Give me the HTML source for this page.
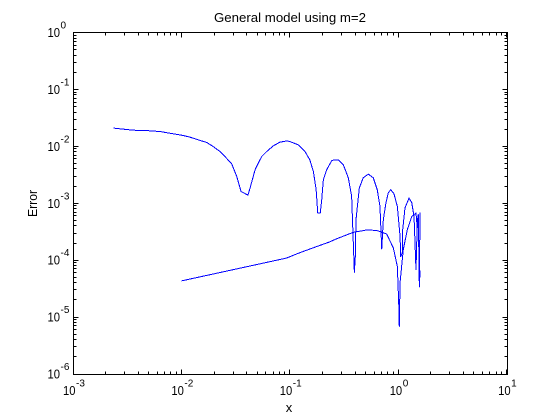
<!DOCTYPE html>
<html>
<head>
<meta charset="utf-8">
<title>General model using m=2</title>
<style>
html,body{margin:0;padding:0;background:#fff}
svg{display:block;font-family:"Liberation Sans",Arial,sans-serif}
text{fill:#000}
</style>
</head>
<body>
<svg id="chart" width="560" height="420" viewBox="0 0 560 420" xmlns="http://www.w3.org/2000/svg">
<rect x="0" y="0" width="560" height="420" fill="#fff"/>
<text x="214" y="22" font-size="13" textLength="152" lengthAdjust="spacingAndGlyphs">General model using m=2</text>
<text x="289" y="412" font-size="13" text-anchor="middle">x</text>
<text transform="translate(37,217) rotate(-90)" font-size="13" textLength="27" lengthAdjust="spacingAndGlyphs">Error</text>
<g id="ticks"></g>
<g id="labels"></g>
<g id="series"></g>
<rect x="73.5" y="32.5" width="434" height="342" fill="none" stroke="#000" stroke-width="1" shape-rendering="crispEdges"/>
</svg>
<script>
var xExponents = [-3, -2, -1, 0, 1];
var yExponents = [0, -1, -2, -3, -4, -5, -6];
var minorFactors = [2, 3, 4, 5, 6, 7, 8, 9];

var outerX = [0.00236,0.0036,0.00479,0.00635,0.00841,0.0104,0.012,0.0143,0.0171,0.0197,0.0227,0.0252,0.0291,0.0324,0.0355,0.0411,0.043,0.0478,0.0512,0.0551,0.0612,0.0705,0.0813,0.0871,0.0935,0.1005,0.12,0.138,0.153,0.165,0.175,0.181,0.191,0.197,0.204,0.219,0.244,0.261,0.28,0.312,0.347,0.372,0.394,0.402,0.408,0.438,0.476,0.53,0.589,0.641,0.679,0.705,0.729,0.771,0.811,0.853,0.914,0.982,1.04,1.055,1.09,1.1,1.156,1.259,1.334,1.4,1.459,1.5,1.532,1.567,1.589];
var outerY = [0.0209,0.0192,0.0189,0.0182,0.0166,0.0155,0.0145,0.013,0.0117,0.0099,0.0081,0.00662,0.00493,0.00295,0.00161,0.00139,0.00185,0.00387,0.00507,0.00662,0.0081,0.0102,0.0119,0.0121,0.0125,0.0121,0.0106,0.0081,0.0058,0.00361,0.00173,0.000673,0.000673,0.00115,0.00258,0.00387,0.00564,0.0058,0.0058,0.00473,0.00277,0.00132,0.0000611,0.000115,0.000514,0.00187,0.0028,0.00325,0.0028,0.00173,0.000879,0.000157,0.000514,0.00102,0.00153,0.00173,0.00147,0.000879,0.000262,0.000115,0.000135,0.000343,0.000834,0.00123,0.00102,0.000586,0.0000681,0.000455,0.000628,0.0000339,0.000681];

var innerX = [0.01,0.0935,0.116,0.153,0.19,0.231,0.271,0.385,0.512,0.634,0.783,0.902,0.982,1.016,1.023,1.04,1.114,1.213,1.334,1.459,1.5,1.52,1.589];
var innerY = [0.0000432,0.000109,0.000129,0.000157,0.000182,0.000208,0.000238,0.000308,0.000339,0.000333,0.000288,0.000164,0.0000778,0.0000135,0.0000069,0.0000403,0.000153,0.000343,0.000586,0.000673,0.000372,0.000628,0.0000493];

var NS = 'http://www.w3.org/2000/svg';
var plotLeft = 73, plotRight = 506.6, plotTop = 32.5, plotBottom = 374;

function xScale(v) {
  return plotLeft + (Math.log10(v) + 3) / 4 * (plotRight - plotLeft);
}
function yScale(v) {
  return plotTop - Math.log10(v) / 6 * (plotBottom - plotTop);
}

var ticksGroup = document.getElementById('ticks');
var labelsGroup = document.getElementById('labels');
var seriesGroup = document.getElementById('series');

function tickLine(x1, y1, x2, y2) {
  var el = document.createElementNS(NS, 'line');
  
  
  el.setAttribute('x1', Math.floor(x1) + 0.5);
  el.setAttribute('y1', Math.floor(y1) + 0.5);
  el.setAttribute('x2', Math.floor(x2) + 0.5);
  el.setAttribute('y2', Math.floor(y2) + 0.5);
  el.setAttribute('stroke', '#000');
  el.setAttribute('shape-rendering', 'crispEdges');
  ticksGroup.appendChild(el);
}

function xTicksAt(v, len) {
  var px = Math.min(xScale(v), 507);
  tickLine(px, 374, px, 374 - len);
  tickLine(px, 32, px, 32 + len);
}
function yTicksAt(v, len) {
  var py = yScale(v);
  tickLine(73, py, 73 + len, py);
  tickLine(507, py, 507 - len, py);
}

function powerLabel(baseX, baseY, exponent, name) {
  var base = document.createElementNS(NS, 'text');
  
  
  base.setAttribute('x', baseX);
  base.setAttribute('y', baseY);
  base.setAttribute('font-size', '13');
  base.setAttribute('textLength', '12.5');
  base.setAttribute('lengthAdjust', 'spacingAndGlyphs');
  base.textContent = '10';
  labelsGroup.appendChild(base);
  var sup = document.createElementNS(NS, 'text');
  
  
  sup.setAttribute('x', baseX + 13);
  sup.setAttribute('y', baseY - 8.5);
  sup.setAttribute('font-size', '10');
  sup.textContent = String(exponent);
  labelsGroup.appendChild(sup);
}

xExponents.forEach(function (e, i) {
  var major = Math.pow(10, e);
  xTicksAt(major, 5);
  if (i < xExponents.length - 1) {
    minorFactors.forEach(function (f) { xTicksAt(f * major, 3); });
  }
  var px = xScale(major);
  powerLabel(px - (e < 0 ? 10 : 8.5), 395, e, 'x-tick-label');
});

yExponents.forEach(function (e, i) {
  var major = Math.pow(10, e);
  yTicksAt(major, 5);
  if (i < yExponents.length - 1) {
    var lower = Math.pow(10, e - 1);
    minorFactors.forEach(function (f) { yTicksAt(f * lower, 3); });
  }
  var py = yScale(major);
  powerLabel(47.5, py + 4.5, e, 'y-tick-label');
});

function drawSeries(xs, ys, name) {
  var d = '';
  for (var i = 0; i < xs.length; i++) {
    d += (i ? 'L' : 'M') + xScale(xs[i]).toFixed(2) + ' ' + yScale(ys[i]).toFixed(2);
  }
  var path = document.createElementNS(NS, 'path');
  
  
  path.setAttribute('d', d);
  path.setAttribute('fill', 'none');
  path.setAttribute('stroke', '#0000ff');
  path.setAttribute('stroke-width', '1');
  path.setAttribute('stroke-linejoin', 'round');
  path.setAttribute('shape-rendering', 'crispEdges');
  seriesGroup.appendChild(path);
}

drawSeries(outerX, outerY, 'error-curve-upper');
drawSeries(innerX, innerY, 'error-curve-lower');
</script>
</body>
</html>
